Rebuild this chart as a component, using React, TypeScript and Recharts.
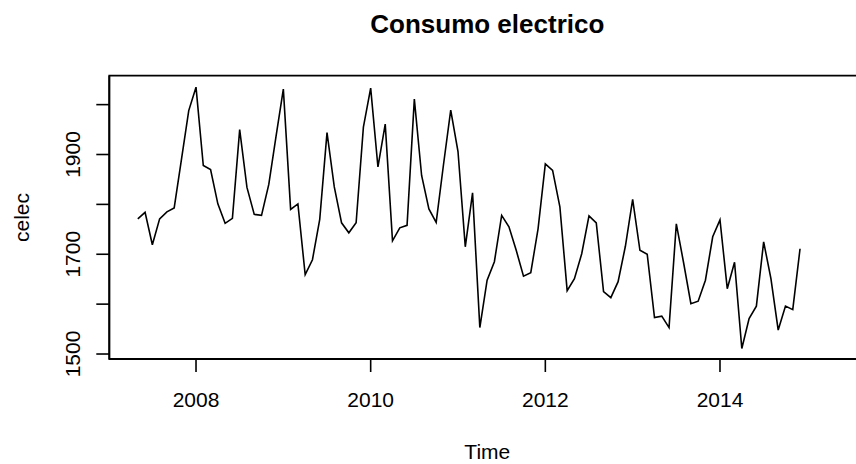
import React from "react";
import { LineChart, Line, XAxis, YAxis, ReferenceArea } from "recharts";

// Monthly electricity consumption (celec), May 2007 – Dec 2014
const celec2007 = [1771, 1784, 1719, 1771, 1785, 1793, 1890, 1988]; // May–Dec
const celec2008 = [2035, 1878, 1870, 1801, 1762, 1772, 1950, 1834, 1780, 1778, 1840, 1937];
const celec2009 = [2031, 1790, 1801, 1659, 1689, 1770, 1944, 1835, 1763, 1743, 1763, 1955];
const celec2010 = [2033, 1875, 1961, 1727, 1753, 1758, 2011, 1858, 1791, 1764, 1879, 1989];
const celec2011 = [1906, 1715, 1823, 1553, 1648, 1685, 1778, 1755, 1708, 1656, 1663, 1751];
const celec2012 = [1881, 1868, 1795, 1627, 1651, 1701, 1777, 1763, 1625, 1613, 1645, 1716];
const celec2013 = [1810, 1708, 1700, 1573, 1576, 1553, 1761, 1683, 1601, 1606, 1648, 1735];
const celec2014 = [1769, 1631, 1684, 1511, 1571, 1596, 1725, 1651, 1548, 1596, 1589, 1711];

const years = [2007, 2008, 2009, 2010, 2011, 2012, 2013, 2014];
const yearlySeries = [celec2007, celec2008, celec2009, celec2010, celec2011, celec2012, celec2013, celec2014];
const firstMonth = 5; // series begins in May of the first year

const xTicks = [2008, 2010, 2012, 2014];
const yTicks = [1500, 1600, 1700, 1800, 1900, 2000];
const yLabelledTicks = [1500, 1700, 1900];

const xDomain: [number, number] = [2007.007, 2015.664];
const yDomain: [number, number] = [1490, 2058];

const title = "Consumo electrico";
const xTitle = "Time";
const yTitle = "celec";

// Time-series rows: time = year + (month - 1) / 12
const data = yearlySeries.flatMap((vals, i) => {
  const offset = i === 0 ? firstMonth - 1 : 0;
  return vals.map((v, j) => ({ time: years[i] + (offset + j) / 12, celec: v }));
});

const FONT = "'Liberation Sans', Arial, Helvetica, sans-serif";
const W = 880;
const H = 464;

const XTick = (props: any) => {
  const { x, payload } = props;
  return (
    <text x={x} y={406.5} textAnchor="middle" fontFamily={FONT} fontSize={21} fill="#000">
      {payload.value}
    </text>
  );
};

const YTick = (props: any) => {
  const { y, payload } = props;
  if (!yLabelledTicks.includes(payload.value)) return <g />;
  return (
    <text
      x={80}
      y={y}
      transform={`rotate(-90, 80, ${y})`}
      textAnchor="middle"
      fontFamily={FONT}
      fontSize={21}
      fill="#000"
    >
      {payload.value}
    </text>
  );
};

export default function App() {
  return (
    <div
      style={{
        position: "absolute",
        left: 0,
        top: 0,
        width: 856,
        height: H,
        overflow: "hidden",
        background: "#fff",
      }}
    >
      <LineChart
        width={W}
        height={H}
        data={data}
        margin={{ top: 75.7, right: 14.7, bottom: 0, left: 0 }}
      >
        <XAxis
          type="number"
          dataKey="time"
          domain={xDomain}
          allowDataOverflow
          ticks={xTicks}
          interval={0}
          height={105}
          tickSize={13}
          tickLine={{ stroke: "#000", strokeWidth: 1.6 }}
          axisLine={{ stroke: "#000", strokeWidth: 1.8 }}
          tick={<XTick />}
        />
        <YAxis
          type="number"
          domain={yDomain}
          allowDataOverflow
          ticks={yTicks}
          interval={0}
          width={109.3}
          tickSize={13}
          tickLine={{ stroke: "#000", strokeWidth: 1.6 }}
          axisLine={{ stroke: "#000", strokeWidth: 1.8 }}
          tick={<YTick />}
        />
        <ReferenceArea
          x1={xDomain[0]}
          x2={xDomain[1]}
          y1={yDomain[0]}
          y2={yDomain[1]}
          fill="none"
          fillOpacity={0}
          stroke="#000"
          strokeWidth={1.8}
          ifOverflow="visible"
        />
        <Line
          type="linear"
          dataKey="celec"
          stroke="#000"
          strokeWidth={1.6}
          dot={false}
          activeDot={false}
          isAnimationActive={false}
        />
      </LineChart>
      <svg
        width={856}
        height={H}
        style={{ position: "absolute", left: 0, top: 0, pointerEvents: "none" }}
      >
        <text x={487.3} y={32.7} textAnchor="middle" fontFamily={FONT} fontSize={26} fontWeight="bold" fill="#000">
          {title}
        </text>
        <text x={487.3} y={459} textAnchor="middle" fontFamily={FONT} fontSize={21} fill="#000">
          {xTitle}
        </text>
        <text
          x={28.5}
          y={217.5}
          transform="rotate(-90, 28.5, 217.5)"
          textAnchor="middle"
          fontFamily={FONT}
          fontSize={21}
          fill="#000"
        >
          {yTitle}
        </text>
      </svg>
    </div>
  );
}
